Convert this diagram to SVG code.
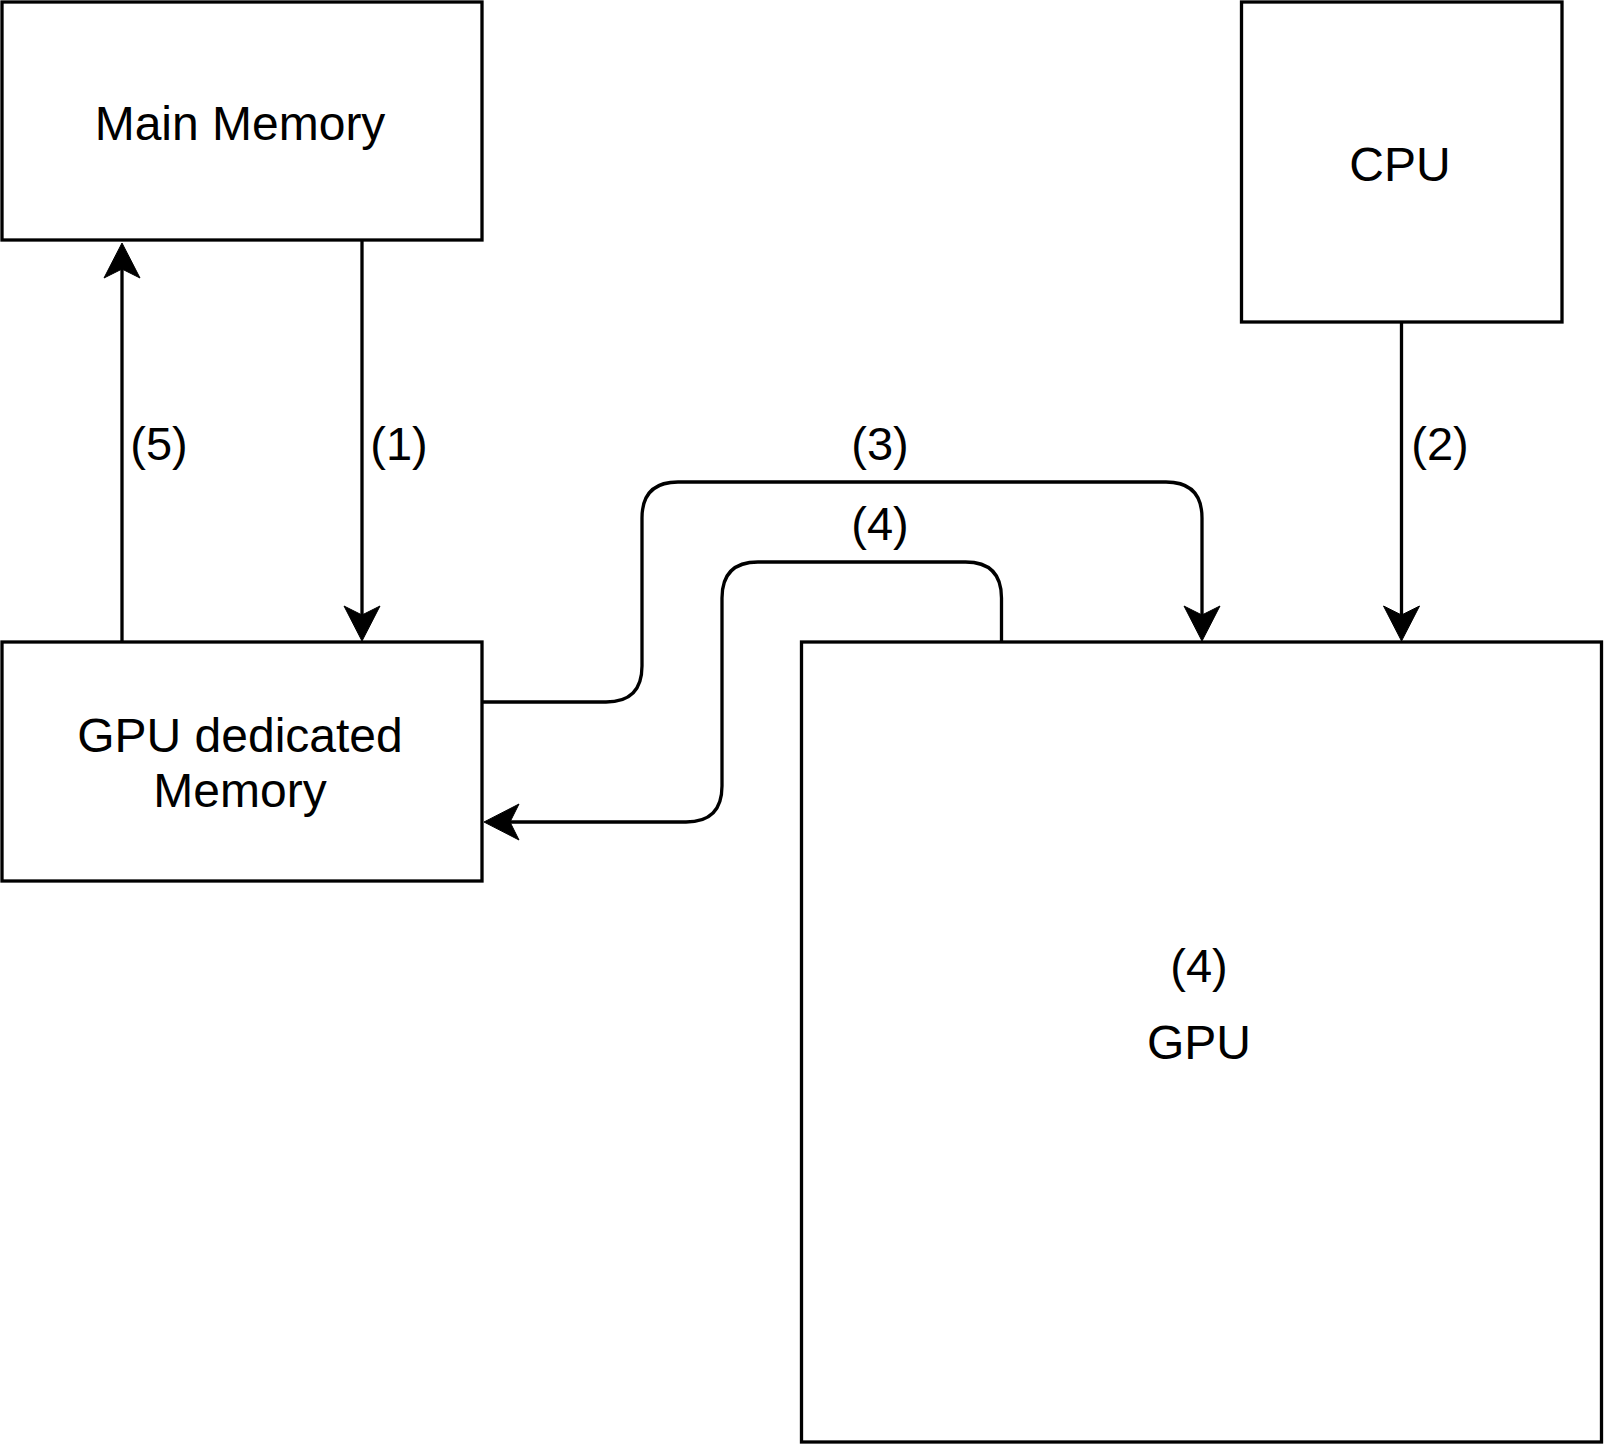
<svg xmlns="http://www.w3.org/2000/svg" width="1604" height="1444" viewBox="0 0 1604 1444">
<style>
.box{fill:#fff;stroke:#000;stroke-width:3.3}
.edge{fill:none;stroke:#000;stroke-width:3.3}
text{font-family:"Liberation Sans",Arial,Helvetica,sans-serif;font-size:47px;fill:#000;text-anchor:middle}
.big{font-size:48px}
</style>
<defs>
<marker id="arr" markerUnits="userSpaceOnUse" markerWidth="40" markerHeight="40" viewBox="-10 -20 40 40" refX="0" refY="0" orient="auto" overflow="visible">
<path d="M26,0 L-9,-18 L0,0 L-9,18 Z" fill="#000" stroke="#000" stroke-width="1"/>
</marker>
</defs>
<rect width="1604" height="1444" fill="#fff"/>
<g id="main-memory">
<rect class="box" x="2" y="2" width="480" height="238"/>
<text class="big" x="240" y="140">Main Memory</text>
</g>
<g id="cpu">
<rect class="box" x="1241.5" y="2" width="320.5" height="320"/>
<text class="big" x="1400" y="181">CPU</text>
</g>
<g id="gpu-dedicated-memory">
<rect class="box" x="2" y="642" width="480" height="239"/>
<text class="big" x="240" y="752">GPU dedicated</text>
<text class="big" x="240" y="807">Memory</text>
</g>
<g id="gpu">
<rect class="box" x="801.5" y="642" width="800" height="800"/>
<text x="1199" y="982">(4)</text>
<text class="big" x="1199" y="1059">GPU</text>
</g>
<g id="connectors">
<path class="edge" d="M362,240 V615" marker-end="url(#arr)"/>
<path class="edge" d="M122,642 V269" marker-end="url(#arr)"/>
<path class="edge" d="M1401.5,322 V615" marker-end="url(#arr)"/>
<path class="edge" d="M482,702 H606 Q642,702 642,666 V518 Q642,482 678,482 H1166 Q1202,482 1202,518 V615" marker-end="url(#arr)"/>
<path class="edge" d="M1001.5,642 V598 Q1001.5,562 965.5,562 H758 Q722,562 722,598 V786 Q722,822 686,822 H510" marker-end="url(#arr)"/>
</g>
<g id="labels">
<text x="159" y="460">(5)</text>
<text x="399" y="460">(1)</text>
<text x="1440" y="460">(2)</text>
<text x="880" y="460">(3)</text>
<text x="880" y="540">(4)</text>
</g>
</svg>
